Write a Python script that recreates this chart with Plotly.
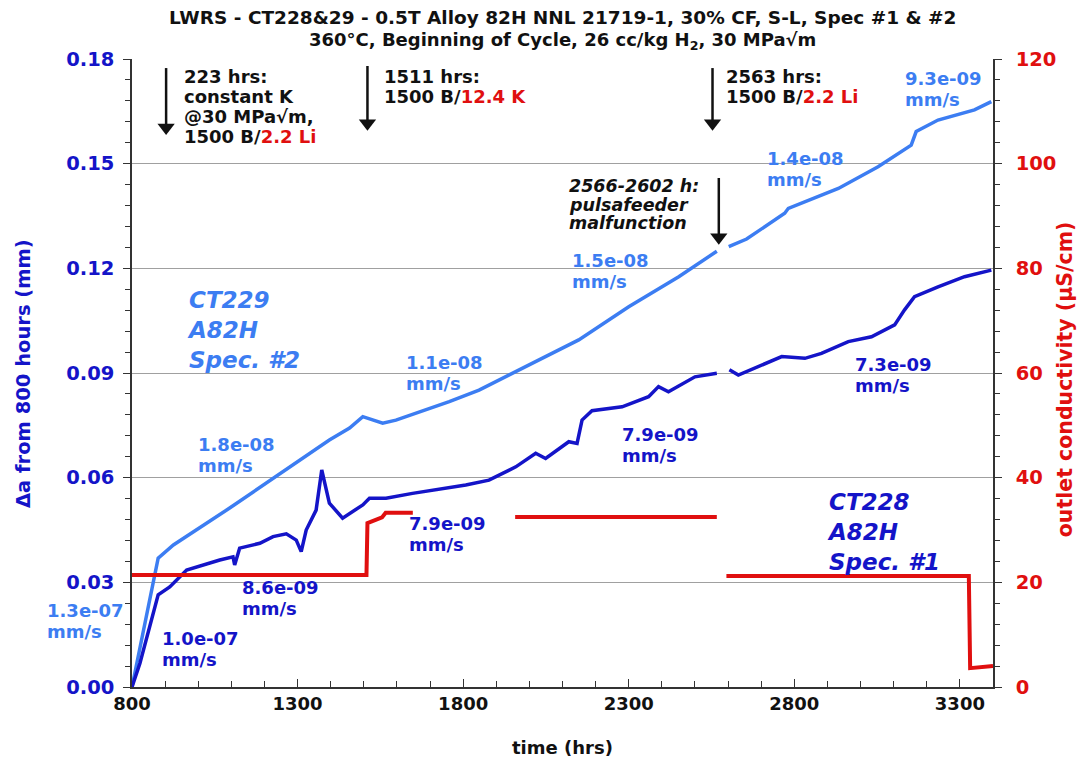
import plotly.graph_objects as go

# ---- data ----
# CT229 (Spec. #2) crack extension, mm, vs time (hrs); None marks the data gap
ct229_time = [800, 879, 925, 1095, 1396, 1457, 1497, 1557, 1597, 1758, 1848, 1999, 2149,
              2300, 2451, 2566, None, 2602, 2656, 2771, 2782, 2933, 3053, 3153, 3168,
              3234, 3344, 3395]
ct229_da = [0.0, 0.0369, 0.0407, 0.0513, 0.0708, 0.0742, 0.0775, 0.0756, 0.0765, 0.0818,
            0.0851, 0.0923, 0.0995, 0.1090, 0.1176, 0.1249, None, 0.1262, 0.1284, 0.1358,
            0.1372, 0.1429, 0.1491, 0.1553, 0.1592, 0.1625, 0.1654, 0.1678]

# CT228 (Spec. #1) crack extension, mm
ct228_time = [800, 824, 879, 914, 965, 1015, 1065, 1105, 1110, 1125, 1186, 1226, 1266, 1296,
              1311, 1326, 1356, 1373, 1396, 1436, 1497, 1517, 1567, 1647, 1748, 1808, 1878,
              1959, 2019, 2049, 2119, 2144, 2159, 2189, 2280, 2360, 2390, 2420, 2500, 2566,
              None, 2604, 2631, 2762, 2832, 2882, 2963, 3033, 3103, 3133, 3163, 3234, 3314,
              3395]
ct228_da = [0.0, 0.0068, 0.0264, 0.0287, 0.0335, 0.0350, 0.0364, 0.0373, 0.0350, 0.0398,
            0.0412, 0.0431, 0.0439, 0.0421, 0.0388, 0.0450, 0.0507, 0.0622, 0.0527, 0.0484,
            0.0522, 0.0541, 0.0541, 0.0555, 0.0570, 0.0579, 0.0593, 0.0631, 0.0670, 0.0655,
            0.0703, 0.0698, 0.0765, 0.0792, 0.0803, 0.0832, 0.0861, 0.0846, 0.0889, 0.0899,
            None, 0.0909, 0.0894, 0.0947, 0.0942, 0.0956, 0.0990, 0.1004, 0.1038, 0.1081,
            0.1119, 0.1147, 0.1176, 0.1195]

# outlet conductivity, uS/cm
cond_time = [800, 1508, 1511, 1555, 1566, 1648, None, 1957, 2566, None, 2595, 3327, 3331, 3400]
cond_val = [21.4, 21.4, 31.3, 32.4, 33.3, 33.3, None, 32.5, 32.5, None, 21.2, 21.2, 3.6, 4.0]

x_ticks = [800, 1300, 1800, 2300, 2800, 3300]

title_lines = [
    "LWRS - CT228&29 - 0.5T Alloy 82H NNL 21719-1, 30% CF, S-L, Spec #1 & #2",
    "360°C, Beginning of Cycle, 26 cc/kg H<sub>2</sub>, 30 MPa√m",
]

# ---- styling ----
FONT = "Verdana, 'DejaVu Sans', sans-serif"
LIGHT = "#3C7DF2"
DARK = "#1414C8"
RED = "#E00F0F"
BLACK = "#111111"

fig = go.Figure()
fig.add_trace(go.Scatter(x=cond_time, y=cond_val, yaxis="y2", mode="lines",
                         line=dict(color=RED, width=4), name="conductivity"))
fig.add_trace(go.Scatter(x=ct229_time, y=ct229_da, mode="lines",
                         line=dict(color=LIGHT, width=3.5), name="CT229"))
fig.add_trace(go.Scatter(x=ct228_time, y=ct228_da, mode="lines",
                         line=dict(color=DARK, width=3.5), name="CT228"))

# event arrows: (time, top, bottom tip) drawn as a shaft plus a triangle head
arrows = [(903, 0.1774, 0.1582), (1511, 0.1780, 0.1594), (2553, 0.1774, 0.1594),
          (2572, 0.1459, 0.1267)]
HEAD = 0.0022  # head centre sits this far above the tip
shaft_x, shaft_y = [], []
for t, top, bot in arrows:
    shaft_x += [t, t, None]
    shaft_y += [top, bot + HEAD, None]
fig.add_trace(go.Scatter(x=shaft_x, y=shaft_y, mode="lines",
                         line=dict(color=BLACK, width=2.5), hoverinfo="skip"))
fig.add_trace(go.Scatter(x=[a[0] for a in arrows], y=[a[2] + HEAD for a in arrows],
                         mode="markers", hoverinfo="skip",
                         marker=dict(symbol="triangle-down", size=15, color=BLACK,
                                     line=dict(width=0))))

fig.update_layout(
    width=1079, height=761,
    margin=dict(l=132, r=86, t=59, b=74),
    plot_bgcolor="white", paper_bgcolor="white",
    showlegend=False,
    xaxis=dict(
        range=[800, 3400], tickvals=x_ticks, ticks="inside", ticklen=8, tickwidth=1,
        tickcolor="#333", showline=True, linecolor="#333", linewidth=1.5,
        showgrid=False, zeroline=False,
        tickfont=dict(family=FONT, size=18, color=BLACK, weight="bold"),
        minor=dict(dtick=100, ticks="inside", ticklen=6, tickcolor="#333")),
    yaxis=dict(
        range=[0, 0.18], dtick=0.03, tickformat=".2f", ticks="outside", ticklen=7,
        tickcolor="#333", showline=True, linecolor="#333", linewidth=1.5,
        showgrid=True, gridcolor="#A0A0A0", gridwidth=1, zeroline=False,
        ticklabelstandoff=5,
        tickfont=dict(family=FONT, size=19.5, color=DARK, weight="bold"),
        minor=dict(dtick=0.006, ticks="outside", ticklen=5, tickcolor="#333",
                   showgrid=False)),
    yaxis2=dict(
        range=[0, 120], dtick=20, overlaying="y", side="right", ticks="outside",
        ticklen=7, tickcolor="#333", showline=True, linecolor="#333", linewidth=1.5,
        showgrid=False, zeroline=False, ticklabelstandoff=10,
        tickfont=dict(family=FONT, size=19.5, color=RED, weight="bold"),
        minor=dict(dtick=4, ticks="outside", ticklen=5, tickcolor="#333")),
)

# chart title, two centred lines above the plot area
for i, line in enumerate(title_lines):
    fig.add_annotation(text=line, xref="paper", yref="paper", x=0.5, y=1.066 - i * 0.037,
                       showarrow=False, xanchor="center", yanchor="middle",
                       font=dict(family=FONT, size=18.5 if i == 0 else 18, color=BLACK,
                                 weight="bold"))

# axis titles
fig.add_annotation(text="Δa from 800 hours (mm)", xref="paper", yref="paper",
                   x=-0.1266, y=0.5, textangle=-90, showarrow=False,
                   xanchor="center", yanchor="middle",
                   font=dict(family=FONT, size=19.5, color=DARK, weight="bold"))
fig.add_annotation(text="outlet conductivity (µS/cm)", xref="paper", yref="paper",
                   x=1.0836, y=0.49, textangle=-90, showarrow=False,
                   xanchor="center", yanchor="middle",
                   font=dict(family=FONT, size=20.5, color=RED, weight="bold"))
fig.add_annotation(text="time (hrs)", xref="paper", yref="paper", x=0.5, y=-0.097,
                   showarrow=False, xanchor="center", yanchor="middle",
                   font=dict(family=FONT, size=18, color=BLACK, weight="bold"))


def red(s):
    return f"<span style='color:{RED}'>{s}</span>"


def note(lines, x, y, step=20, size=18, color=BLACK, italic=False, xref="x"):
    """Stack text lines under (x, y) with a fixed pixel line step."""
    for i, line in enumerate(lines):
        fig.add_annotation(text=line, x=x, y=y, xref=xref, yref="y", showarrow=False,
                           xanchor="left", yanchor="top", yshift=-i * step,
                           font=dict(family=FONT, size=size, color=color, weight="bold",
                                     style="italic" if italic else "normal"))


note(["223 hrs:", "constant K", "@30 MPa√m,", "1500 B/" + red("2.2 Li")], 951, 0.1785)
note(["1511 hrs:", "1500 B/" + red("12.4 K")], 1555, 0.1785)
note(["2563 hrs:", "1500 B/" + red("2.2 Li")], 2587, 0.1785)
note(["2566-2602 h:", "pulsafeeder", "malfunction"], 2113, 0.1470, step=18.5, size=17.5,
     italic=True)

# crack growth rate labels
rate_labels = [
    ("9.3e-09", 3128, 0.1780, LIGHT), ("1.4e-08", 2711, 0.1551, LIGHT),
    ("1.5e-08", 2122, 0.1258, LIGHT), ("1.1e-08", 1621, 0.0966, LIGHT),
    ("1.8e-08", 993, 0.0731, LIGHT),
    ("1.0e-07", 885, 0.0175, DARK), ("8.6e-09", 1126, 0.0321, DARK),
    ("7.9e-09", 1630, 0.0504, DARK), ("7.9e-09", 2273, 0.0760, DARK),
    ("7.3e-09", 2977, 0.0960, DARK),
]
for rate, t, y, c in rate_labels:
    note([rate, "mm/s"], t, y, step=21, size=18, color=c)
# initial CT229 rate sits left of the plot area, so place it in paper units
note(["1.3e-07", "mm/s"], -0.101, 0.0255, step=21, size=18, color=LIGHT, xref="paper")

# specimen labels
fig.add_annotation(text="CT229<br>A82H<br>Spec. #2", x=960, y=0.1152, xref="x", yref="y",
                   showarrow=False, xanchor="left", yanchor="top", align="left",
                   font=dict(family=FONT, size=23, color=LIGHT, weight="bold", style="italic"))
fig.add_annotation(text="CT228<br>A82H<br>Spec. #1", x=2892, y=0.0573, xref="x", yref="y",
                   showarrow=False, xanchor="left", yanchor="top", align="left",
                   font=dict(family=FONT, size=23, color=DARK, weight="bold", style="italic"))

fig.write_html("out.html")
